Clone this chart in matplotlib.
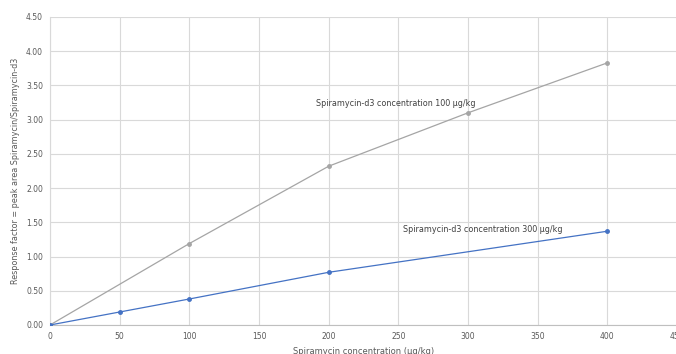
import matplotlib
matplotlib.use("Agg")
import matplotlib.pyplot as plt

x_100 = [0, 100, 200, 300, 400]
y_100 = [0.0, 1.19, 2.32, 3.10, 3.83]
x_300 = [0, 50, 100, 200, 400]
y_300 = [0.0, 0.19, 0.38, 0.77, 1.37]
x_ticks = [0, 50, 100, 150, 200, 250, 300, 350, 400, 450]
y_ticks = [0.0, 0.5, 1.0, 1.5, 2.0, 2.5, 3.0, 3.5, 4.0, 4.5]
label_100 = "Spiramycin-d3 concentration 100 µg/kg"
label_300 = "Spiramycin-d3 concentration 300 µg/kg"

plt.rcParams['font.family'] = ['DejaVu Sans']
fig = plt.figure(figsize=(6.76, 3.54), dpi=100)
ax = fig.add_axes([50/676, 29/354, 627/676, 308/354])

ax.plot(x_100, y_100, color="#a5a5a5", lw=0.9, marker="o", ms=2.5, zorder=3)
ax.plot(x_300, y_300, color="#4472c4", lw=0.9, marker="o", ms=2.5, zorder=3)

ax.set_xlim(0, 450)
ax.set_ylim(0, 4.5)
ax.set_xticks(x_ticks)
ax.set_yticks(y_ticks)
ax.set_xticklabels([str(v) for v in x_ticks])
ax.set_yticklabels([f"{v:.2f}" for v in y_ticks])
ax.grid(True, color="#d9d9d9", lw=0.8)
ax.set_axisbelow(True)
for s in ["top", "right"]:
    ax.spines[s].set_visible(False)
ax.spines["left"].set_color("#d9d9d9")
ax.spines["bottom"].set_color("#bfbfbf")
ax.tick_params(length=0, labelsize=5.5, colors="#595959", pad=5)

ax.set_xlabel("Spiramycin concentration (µg/kg)", fontsize=6.0, color="#595959", labelpad=4)
ax.set_ylabel("Response factor = peak area Spiramycin/Spiramycin-d3", fontsize=5.8, color="#595959", labelpad=4)

ax.text(191, 3.24, label_100, fontsize=5.8, color="#404040", va="center")
ax.text(253, 1.39, label_300, fontsize=5.8, color="#404040", va="center")

fig.savefig("out.png", dpi=100)
